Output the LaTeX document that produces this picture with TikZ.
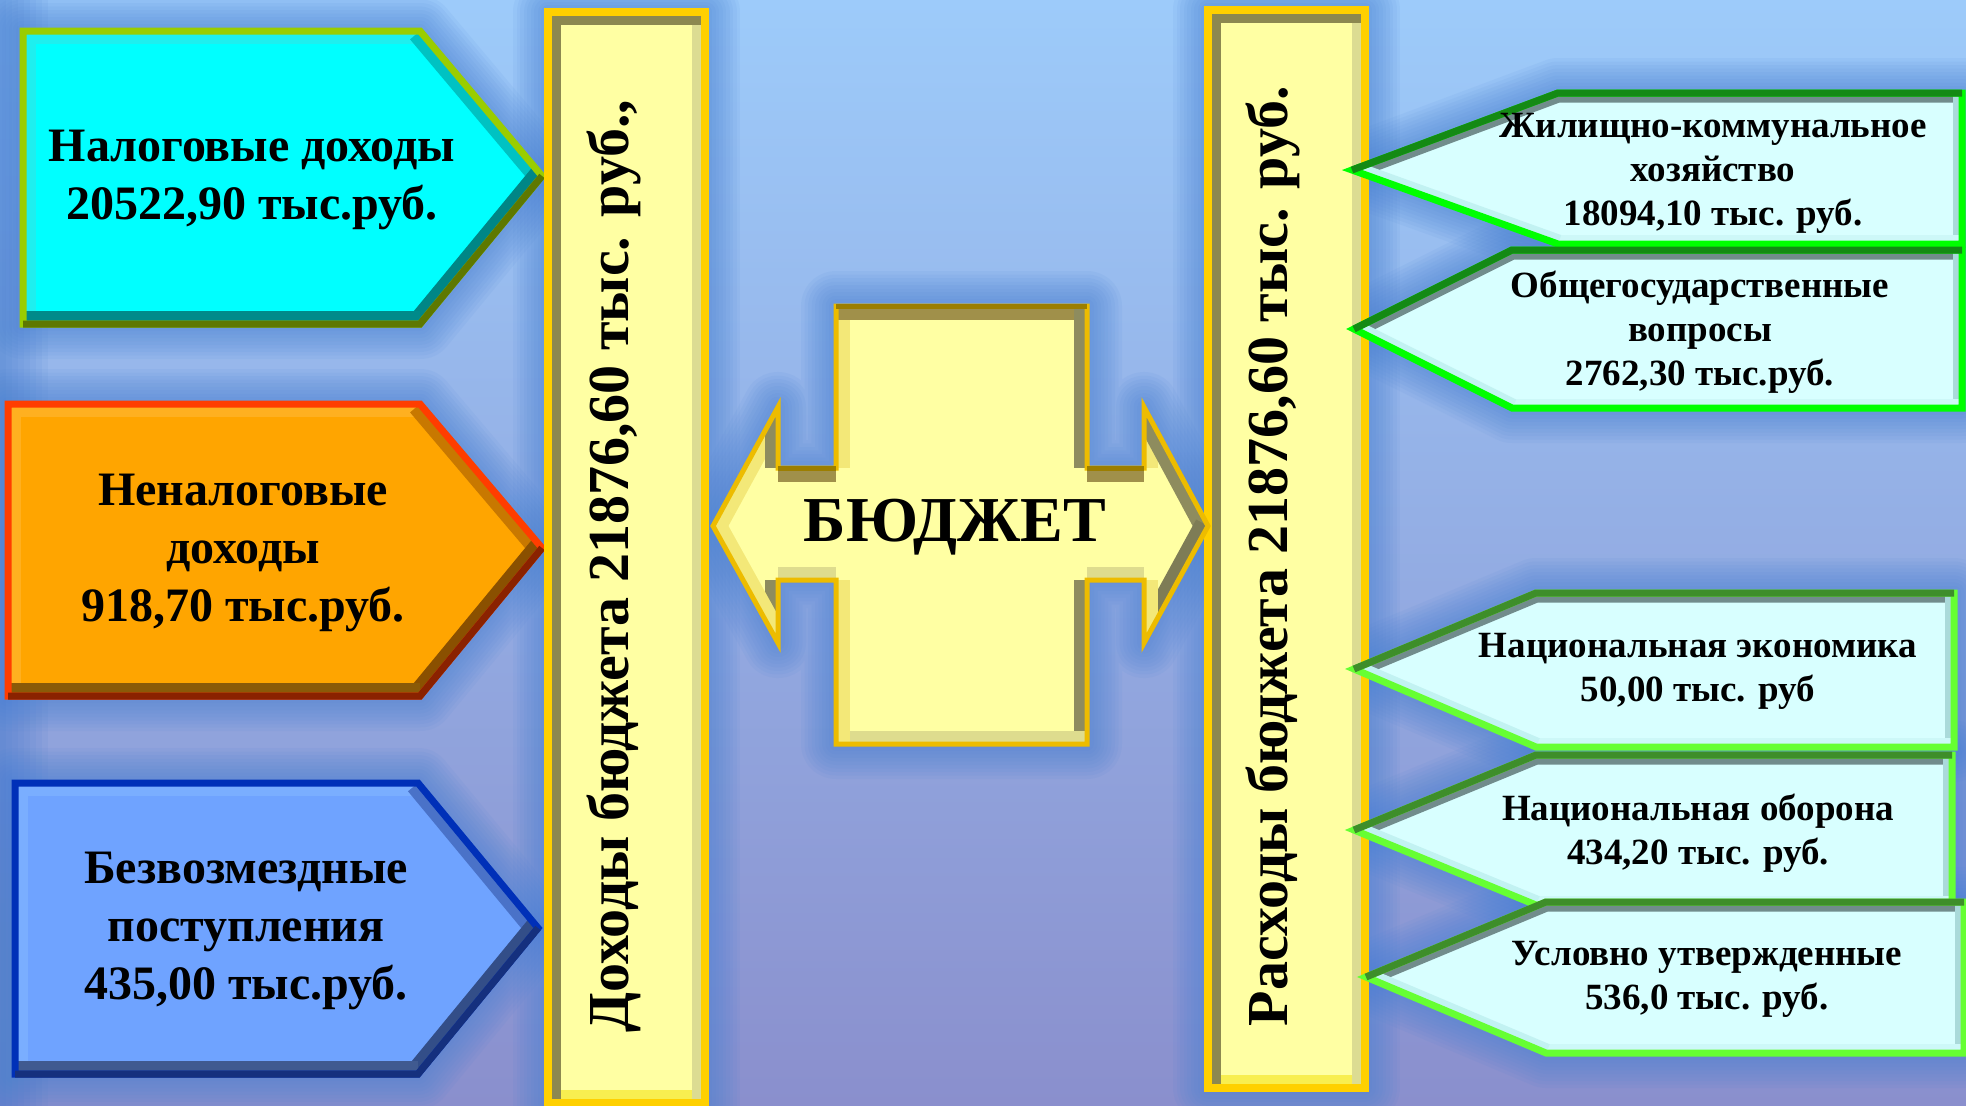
\documentclass[tikz,border=0pt]{standalone}
\usepackage{fontspec}
\setmainfont{Liberation Serif}
\definecolor{bgtop}{HTML}{9DCBFA}
\definecolor{bgbot}{HTML}{8A8FCD}
\definecolor{glowc}{HTML}{4A82D4}
\definecolor{edgec}{HTML}{3A74CC}
% cyan arrow
\definecolor{cyF}{HTML}{00FFFF}
\definecolor{cyT}{HTML}{1EEFEF}
\definecolor{cyU}{HTML}{00C2C2}
\definecolor{cyL}{HTML}{008686}
\definecolor{cyB}{HTML}{008A8A}
\definecolor{cyO}{HTML}{9ACD00}
\definecolor{cyO2}{HTML}{5E7800}
% orange arrow
\definecolor{orF}{HTML}{FFA500}
\definecolor{orT}{HTML}{FFB020}
\definecolor{orU}{HTML}{C87800}
\definecolor{orL}{HTML}{8A5000}
\definecolor{orB}{HTML}{8A5A08}
\definecolor{orO}{HTML}{FF3D00}
\definecolor{orO2}{HTML}{8A2200}
% blue arrow
\definecolor{blF}{HTML}{6FA3FF}
\definecolor{blT}{HTML}{7AAEFF}
\definecolor{blU}{HTML}{4A72C8}
\definecolor{blL}{HTML}{334E88}
\definecolor{blB}{HTML}{405A90}
\definecolor{blO}{HTML}{0030B8}
\definecolor{blO2}{HTML}{15307E}
% yellow
\definecolor{yeF}{HTML}{FFFFA3}
\definecolor{yeO}{HTML}{FFD000}
\definecolor{yeDk}{HTML}{8C8850}
\definecolor{yeLt}{HTML}{DCDC92}
\definecolor{yeBt}{HTML}{F8EE50}
\definecolor{crO}{HTML}{EDBC00}
\definecolor{crO2}{HTML}{9C7E00}
\definecolor{crT}{HTML}{A0904A}
\definecolor{crL}{HTML}{F3E878}
\definecolor{crR}{HTML}{8E8C5E}
\definecolor{crR2}{HTML}{7E7C56}
\definecolor{crB}{HTML}{DEDC8E}
% green arrows
\definecolor{grF}{HTML}{D8FFFF}
\definecolor{grT}{HTML}{718C8C}
\definecolor{grR}{HTML}{AADADA}
\definecolor{grB}{HTML}{CDF8F8}
\definecolor{grLD}{HTML}{C2F2F2}
\definecolor{grA1}{HTML}{00FF00}
\definecolor{grA2}{HTML}{148A14}
\definecolor{grB1}{HTML}{66FF33}
\definecolor{grB2}{HTML}{3E8E2A}

\newcommand\glowpath[1]{\begin{scope}[yshift=-6pt]\foreach \k in {1,...,10}{\pgfmathsetmacro\gw{\k*7}\draw[glowc,opacity=0.08,line width=\gw pt,line join=round] #1;}\end{scope}}

% arrow pointing right: A top-left, B top shoulder, C tip, D bottom shoulder, E bottom-left
\newcommand\pentR[8]{%
 \fill[#2] (#1A)--(#1B)--(#1C)--(#1D)--(#1E)--cycle;
 \begin{scope}
 \clip (#1A)--(#1B)--(#1C)--(#1D)--(#1E)--cycle;
 \draw[band=26pt,#3] (#1E)--(#1A)--(#1B);
 \draw[band=26pt,#4] (#1B)--(#1C);
 \draw[band=26pt,#5] (#1C)--(#1D);
 \draw[band=26pt,#6] (#1D)--(#1E);
 \end{scope}
 \draw[line width=7pt,#7,line join=miter] (#1A)--(#1B)--(#1C)--(#1D)--(#1E)--cycle;
 \draw[line width=7pt,#8,line join=miter] (#1C)--(#1D)--(#1E);
}
% arrow pointing left: T tip, S top shoulder, R top right, Q bottom right, P bottom shoulder
\newcommand\pentL[8]{%
 \fill[#2] (#1T)--(#1S)--(#1R)--(#1Q)--(#1P)--cycle;
 \begin{scope}
 \clip (#1T)--(#1S)--(#1R)--(#1Q)--(#1P)--cycle;
 \draw[band=19pt,#3] (#1T)--(#1S)--(#1R);
 \draw[band=19pt,#4] (#1R)--(#1Q);
 \draw[band=19pt,#5] (#1Q)--(#1P);
 \draw[band=19pt,#6] (#1P)--(#1T);
 \end{scope}
 \draw[line width=7pt,#7,line join=miter] (#1T)--(#1S)--(#1R)--(#1Q)--(#1P)--cycle;
 \draw[line width=7pt,#8,line join=miter] (#1T)--(#1S)--(#1R);
}
% column: a top-left, b bottom-right
\newcommand\column[1]{%
 \fill[yeF] (#1a) rectangle (#1b);
 \begin{scope}
 \clip (#1a) rectangle (#1b);
 \draw[band=26pt,yeBt] (#1a |- #1b)--(#1b);
 \draw[band=26pt,yeLt] (#1b)--(#1b |- #1a);
 \draw[band=26pt,yeDk] (#1a |- #1b)--(#1a)--(#1b |- #1a);
 \end{scope}
 \draw[line width=8pt,yeO] (#1a) rectangle (#1b);
}

\begin{document}
\begin{tikzpicture}[x=1pt,y=-1pt,
  band/.style={line width=#1, line cap=square, line join=miter},
  lt/.style={font=\fontsize{48}{58}\selectfont\bfseries, align=center, text=black},
  rt/.style={font=\fontsize{37}{44}\selectfont\bfseries, align=center, text=black},
  vt/.style={font=\fontsize{58}{60}\selectfont\bfseries, rotate=90, text=black},
  bt/.style={font=\fontsize{64}{70}\selectfont\bfseries, text=black}]
\useasboundingbox (0,0) rectangle (1966,1106);
\clip (0,0) rectangle (1966,1106);
% background
\shade[top color=bgtop, bottom color=bgbot] (0,0) rectangle (1966,1106);
\foreach \k in {1,...,8}{\pgfmathsetmacro\ew{\k*6}\fill[edgec,opacity=0.07] (0,0) rectangle (\ew,1106);}

% coordinates
\coordinate (p1A) at (23,31);  \coordinate (p1B) at (420,31);  \coordinate (p1C) at (542,176);
\coordinate (p1D) at (420,324); \coordinate (p1E) at (23,324);
\coordinate (p2A) at (8,404);  \coordinate (p2B) at (420,404); \coordinate (p2C) at (542,548);
\coordinate (p2D) at (420,696); \coordinate (p2E) at (8,696);
\coordinate (p3A) at (15,783); \coordinate (p3B) at (418,783); \coordinate (p3C) at (538,928);
\coordinate (p3D) at (418,1074); \coordinate (p3E) at (15,1074);
\coordinate (cLa) at (548,12);  \coordinate (cLb) at (705,1103);
\coordinate (cRa) at (1208,10); \coordinate (cRb) at (1365,1088);
\coordinate (k1) at (713,526);  \coordinate (k2) at (778,407);  \coordinate (k3) at (778,468);
\coordinate (k4) at (836,468);  \coordinate (k5) at (836,306);  \coordinate (k6) at (1087,306);
\coordinate (k7) at (1087,468); \coordinate (k8) at (1144,468); \coordinate (k9) at (1144,407);
\coordinate (k10) at (1208,526); \coordinate (k11) at (1144,643); \coordinate (k12) at (1144,580);
\coordinate (k13) at (1087,580); \coordinate (k14) at (1087,744); \coordinate (k15) at (836,744);
\coordinate (k16) at (836,580); \coordinate (k17) at (778,580); \coordinate (k18) at (778,643);
\def\crosspath{(k1)--(k2)--(k3)--(k4)--(k5)--(k6)--(k7)--(k8)--(k9)--(k10)--(k11)--(k12)--(k13)--(k14)--(k15)--(k16)--(k17)--(k18)--cycle}
\coordinate (g1T) at (1352,170); \coordinate (g1S) at (1558,93); \coordinate (g1R) at (1962,93);
\coordinate (g1Q) at (1962,244); \coordinate (g1P) at (1558,244);
\coordinate (g2T) at (1354,329); \coordinate (g2S) at (1512,250); \coordinate (g2R) at (1962,250);
\coordinate (g2Q) at (1962,408); \coordinate (g2P) at (1512,408);
\coordinate (g3T) at (1354,669); \coordinate (g3S) at (1536,593); \coordinate (g3R) at (1954,593);
\coordinate (g3Q) at (1954,747); \coordinate (g3P) at (1536,747);
\coordinate (g4T) at (1354,830); \coordinate (g4S) at (1536,755); \coordinate (g4R) at (1952,755);
\coordinate (g4Q) at (1952,905); \coordinate (g4P) at (1536,905);
\coordinate (g5T) at (1366,977); \coordinate (g5S) at (1546,902); \coordinate (g5R) at (1964,902);
\coordinate (g5Q) at (1964,1053); \coordinate (g5P) at (1546,1053);

% soft shadows
\glowpath{(p1A)--(p1B)--(p1C)--(p1D)--(p1E)--cycle}
\glowpath{(p2A)--(p2B)--(p2C)--(p2D)--(p2E)--cycle}
\glowpath{(p3A)--(p3B)--(p3C)--(p3D)--(p3E)--cycle}
\glowpath{(cLa) rectangle (cLb)}
\glowpath{(cRa) rectangle (cRb)}
\glowpath{\crosspath}
\foreach \g in {g1,g2,g3,g4,g5}{\glowpath{(\g T)--(\g S)--(\g R)--(\g Q)--(\g P)--cycle}}

% left arrows
\pentR{p1}{cyF}{cyT}{cyU}{cyL}{cyB}{cyO}{cyO2}
\pentR{p2}{orF}{orT}{orU}{orL}{orB}{orO}{orO2}
\pentR{p3}{blF}{blT}{blU}{blL}{blB}{blO}{blO2}

% columns
\column{cL}
\column{cR}

% cross
\fill[yeF] \crosspath;
\begin{scope}
\clip \crosspath;
\draw[band=27pt,crL] (k1)--(k2);
\draw[band=27pt,crR] (k2)--(k3);
\draw[band=27pt,crL] (k4)--(k5);
\draw[band=27pt,crL] (k8)--(k9);
\draw[band=27pt,crT] (k3)--(k4);
\draw[band=27pt,crT] (k5)--(k6);
\draw[band=27pt,crR] (k6)--(k7);
\draw[band=27pt,crT] (k7)--(k8);
\draw[band=27pt,crR] (k9)--(k10);
\draw[band=27pt,crR2] (k10)--(k11);
\draw[band=27pt,crL] (k11)--(k12);
\draw[band=27pt,crB] (k12)--(k13);
\draw[band=27pt,crR] (k13)--(k14);
\draw[band=27pt,crB] (k14)--(k15);
\draw[band=27pt,crL] (k15)--(k16);
\draw[band=27pt,crB] (k16)--(k17);
\draw[band=27pt,crR] (k17)--(k18);
\draw[band=27pt,crL] (k18)--(k1);
\end{scope}
\draw[line width=5pt,crO,line join=miter] \crosspath;
\draw[line width=5pt,crO2] (k3)--(k4) (k5)--(k6) (k7)--(k8);

% green arrows
\pentL{g1}{grF}{grT}{grR}{grB}{grLD}{grA1}{grA2}
\pentL{g2}{grF}{grT}{grR}{grB}{grLD}{grA1}{grA2}
\pentL{g3}{grF}{grT}{grR}{grB}{grLD}{grB1}{grB2}
\pentL{g4}{grF}{grT}{grR}{grB}{grLD}{grB1}{grB2}
\pentL{g5}{grF}{grT}{grR}{grB}{grLD}{grB1}{grB2}

% texts
\node[lt] (t1) at (252,180) {Налоговые доходы\\20522,90 тыс.руб.};
\node[lt] (t2) at (243,553) {Неналоговые\\доходы\\918,70 тыс.руб.};
\node[lt] (t3) at (246,931) {Безвозмездные\\поступления\\435,00 тыс.руб.};
\node[vt] (incomes) at (614,566) {Доходы бюджета 21876,60 тыс. руб.,};
\node[vt] (expenses) at (1273,556) {Расходы бюджета 21876,60 тыс. руб.};
\node[bt] (budget) at (955,527) {БЮДЖЕТ};
\node[rt] (r1) at (1713,173) {Жилищно-коммунальное\\хозяйство\\18094,10 тыс. руб.};
\node[rt] (r2) at (1700,332) {Общегосударственные\\вопросы\\2762,30 тыс.руб.};
\node[rt] (r3) at (1698,671) {Национальная экономика\\50,00 тыс. руб};
\node[rt] (r4) at (1698,833) {Национальная оборона\\434,20 тыс. руб.};
\node[rt] (r5) at (1707,979) {Условно утвержденные\\536,0 тыс. руб.};
\end{tikzpicture}
\end{document}
